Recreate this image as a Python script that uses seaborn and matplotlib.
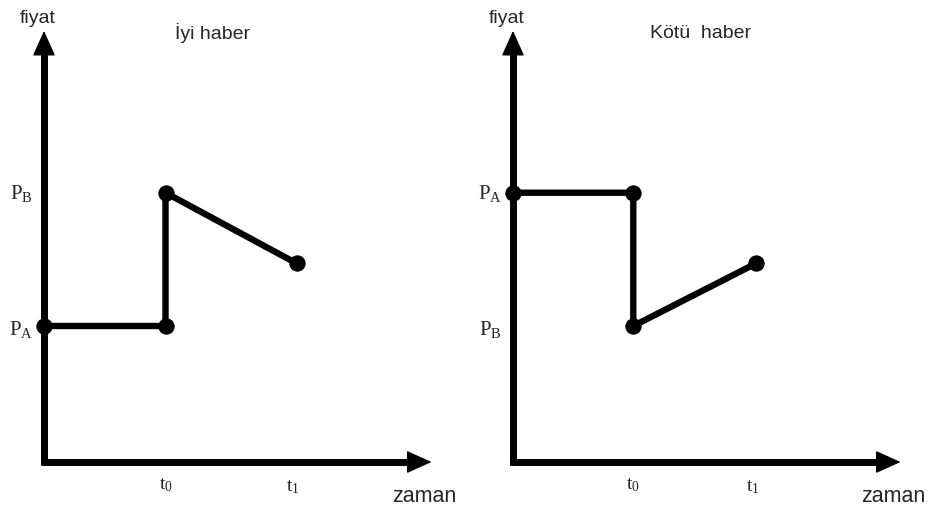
import numpy as np
import pandas as pd
import matplotlib
matplotlib.use("Agg")
import matplotlib.pyplot as plt
import seaborn as sns

sns.set_style("white")
plt.rcParams['font.family'] = ['Liberation Sans', 'DejaVu Sans']
plt.rcParams['mathtext.fontset'] = 'custom'
plt.rcParams['mathtext.rm'] = 'Liberation Serif'
plt.rcParams['mathtext.it'] = 'Liberation Serif'

# --- datos ---
zaman_iyi = [0, 1.0, 1.0, 2.08]
fiyat_iyi = [1.0, 1.0, 1.98, 1.46]
zaman_kotu = [0, 0.99, 0.99, 2.0]
fiyat_kotu = [1.98, 1.98, 1.0, 1.46]
basliklar = ["İyi haber", "Kötü  haber"]
fiyat_etiket_iyi = [r"$\mathrm{P_B}$", r"$\mathrm{P_A}$"]
fiyat_etiket_kotu = [r"$\mathrm{P_A}$", r"$\mathrm{P_B}$"]
zaman_etiket = [r"$\mathrm{t_0}$", r"$\mathrm{t_1}$"]

W, H = 930, 506
px_x, px_y = 121.5, 136.0   # pixeles por unidad
span = 3.3

fig = plt.figure(figsize=(W / 100, H / 100), dpi=100)

paneles = [
    (44, zaman_iyi, fiyat_iyi, basliklar[0], fiyat_etiket_iyi, 1.39),
    (513, zaman_kotu, fiyat_kotu, basliklar[1], fiyat_etiket_kotu, 1.54),
]

for x0, t, p, titulo, etiq, xt in paneles:
    ax = fig.add_axes([x0 / W, 43 / H, span * px_x / W, span * px_y / H])
    ax.set_xlim(0, span)
    ax.set_ylim(0, span)
    ax.axis('off')

    df = pd.DataFrame({'t': t, 'p': p})
    sns.lineplot(data=df, x='t', y='p', sort=False, estimator=None, color='black',
                 lw=4.6, marker='o', markersize=11, markeredgecolor='black', ax=ax)
    for ln in ax.lines:
        ln.set_clip_on(False)
        ln.set_zorder(5)

    # ejes: linea + punta de flecha
    ax.plot([0, 0], [-0.025, 3.0], color='black', lw=5, clip_on=False, solid_capstyle='butt')
    ax.plot([-0.025, 3.05], [0, 0], color='black', lw=5, clip_on=False, solid_capstyle='butt')
    flecha = dict(arrowstyle='-|>,head_length=0.8,head_width=0.36', lw=1,
                  color='black', mutation_scale=20, shrinkA=0, shrinkB=0)
    ax.annotate('', xy=(0, 3.17), xytext=(0, 2.9), arrowprops=flecha, annotation_clip=False)
    ax.annotate('', xy=(3.19, 0), xytext=(2.95, 0), arrowprops=flecha, annotation_clip=False)

    ax.text(-0.05, 3.27, "fiyat", fontsize=14, ha='center', va='center', clip_on=False)
    ax.text(xt, 3.16, titulo, fontsize=14, ha='center', va='center')
    ax.text(3.13, -0.25, "zaman", fontsize=15.5, ha='center', va='center', clip_on=False)

    ax.text(-0.19, 1.98, etiq[0], fontsize=15, ha='center', va='center', clip_on=False)
    ax.text(-0.19, 0.98, etiq[1], fontsize=15, ha='center', va='center', clip_on=False)
    ax.text(t[1], -0.16, zaman_etiket[0], fontsize=14, ha='center', va='center', clip_on=False)
    ax.text(t[3] - 0.03, -0.18, zaman_etiket[1], fontsize=14, ha='center', va='center', clip_on=False)

fig.savefig("out.png", dpi=100)
